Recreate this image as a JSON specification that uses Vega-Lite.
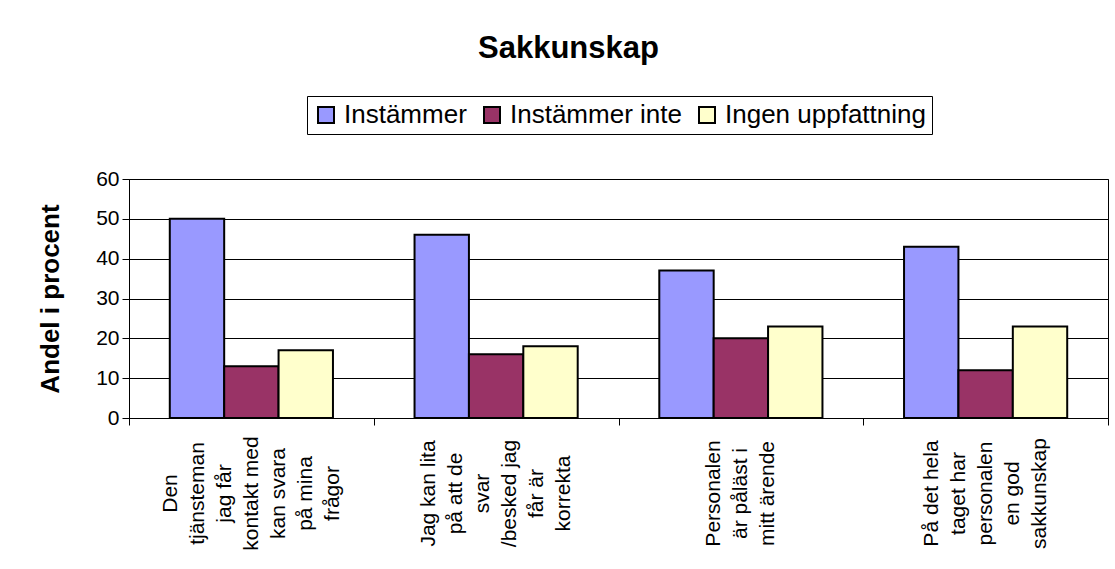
{
  "$schema": "https://vega.github.io/schema/vega-lite/v6.json",
  "autosize": {"type": "none"},
  "width": 979,
  "height": 239,
  "padding": {"left": 129, "top": 179, "right": 7, "bottom": 151},
  "background": "white",
  "title": {
    "text": "Sakkunskap",
    "font": "Liberation Sans",
    "fontSize": 31,
    "fontWeight": "bold",
    "color": "black",
    "anchor": "middle",
    "frame": "group",
    "dx": -50,
    "offset": 31
  },
  "data": {
    "values": [
      {"fraga": "Den|tjänsteman|jag får|kontakt med|kan svara|på mina|frågor", "svar": "Instämmer", "andel": 50},
      {"fraga": "Den|tjänsteman|jag får|kontakt med|kan svara|på mina|frågor", "svar": "Instämmer inte", "andel": 13},
      {"fraga": "Den|tjänsteman|jag får|kontakt med|kan svara|på mina|frågor", "svar": "Ingen uppfattning", "andel": 17},
      {"fraga": "Jag kan lita|på att de|svar|/besked jag|får är|korrekta", "svar": "Instämmer", "andel": 46},
      {"fraga": "Jag kan lita|på att de|svar|/besked jag|får är|korrekta", "svar": "Instämmer inte", "andel": 16},
      {"fraga": "Jag kan lita|på att de|svar|/besked jag|får är|korrekta", "svar": "Ingen uppfattning", "andel": 18},
      {"fraga": "Personalen|är påläst i|mitt ärende", "svar": "Instämmer", "andel": 37},
      {"fraga": "Personalen|är påläst i|mitt ärende", "svar": "Instämmer inte", "andel": 20},
      {"fraga": "Personalen|är påläst i|mitt ärende", "svar": "Ingen uppfattning", "andel": 23},
      {"fraga": "På det hela|taget har|personalen|en god|sakkunskap", "svar": "Instämmer", "andel": 43},
      {"fraga": "På det hela|taget har|personalen|en god|sakkunskap", "svar": "Instämmer inte", "andel": 12},
      {"fraga": "På det hela|taget har|personalen|en god|sakkunskap", "svar": "Ingen uppfattning", "andel": 23}
    ]
  },
  "mark": {"type": "bar", "stroke": "black", "strokeWidth": 2, "cornerRadius": 0},
  "encoding": {
    "x": {
      "field": "fraga",
      "type": "nominal",
      "sort": null,
      "scale": {"paddingInner": 0, "paddingOuter": 0},
      "axis": {
        "title": null,
        "tickBand": "extent",
        "labelExpr": "split(datum.label, '|')",
        "labelAngle": 270,
        "labelAlign": "center",
        "labelBaseline": "middle",
        "labelPadding": 68,
        "labelOffset": {"expr": "-(length(split(datum.value, '|')) - 1) * 13.5"},
        "labelFont": "Liberation Sans",
        "labelFontSize": 21,
        "labelLineHeight": 27,
        "labelColor": "black",
        "labelLimit": 0,
        "labelOverlap": false,
        "labelBound": false,
        "domainColor": "black",
        "domainWidth": 1,
        "tickColor": "black",
        "tickSize": 7,
        "tickWidth": 1
      }
    },
    "xOffset": {
      "field": "svar",
      "type": "nominal",
      "sort": ["Instämmer", "Instämmer inte", "Ingen uppfattning"],
      "scale": {"paddingInner": 0, "paddingOuter": 0.75}
    },
    "y": {
      "field": "andel",
      "type": "quantitative",
      "scale": {"domain": [0, 60], "nice": false},
      "axis": {
        "title": "Andel i procent",
        "titleFont": "Liberation Sans",
        "titleFontSize": 26,
        "titleFontWeight": "bold",
        "titleColor": "black",
        "titlePadding": 32,
        "values": [0, 10, 20, 30, 40, 50, 60],
        "labelFont": "Liberation Sans",
        "labelFontSize": 21,
        "labelColor": "black",
        "labelPadding": 3,
        "domainColor": "black",
        "tickColor": "black",
        "tickSize": 7,
        "grid": true,
        "gridColor": "black",
        "gridWidth": 1
      }
    },
    "color": {
      "field": "svar",
      "type": "nominal",
      "sort": ["Instämmer", "Instämmer inte", "Ingen uppfattning"],
      "scale": {
        "domain": ["Instämmer", "Instämmer inte", "Ingen uppfattning"],
        "range": ["#9999FF", "#993366", "#FFFFCC"]
      },
      "legend": {
        "title": null,
        "orient": "none",
        "direction": "horizontal",
        "legendX": 178,
        "legendY": -83,
        "symbolType": "square",
        "symbolSize": 256,
        "symbolStrokeColor": "black",
        "symbolStrokeWidth": 2,
        "labelFont": "Liberation Sans",
        "labelFontSize": 26,
        "labelColor": "black",
        "labelLimit": 0,
        "labelOffset": 5,
        "columnPadding": 12,
        "strokeColor": "black",
        "padding": 6,
        "fillColor": "white"
      }
    }
  },
  "config": {
    "view": {"stroke": "black", "strokeWidth": 1}
  }
}
